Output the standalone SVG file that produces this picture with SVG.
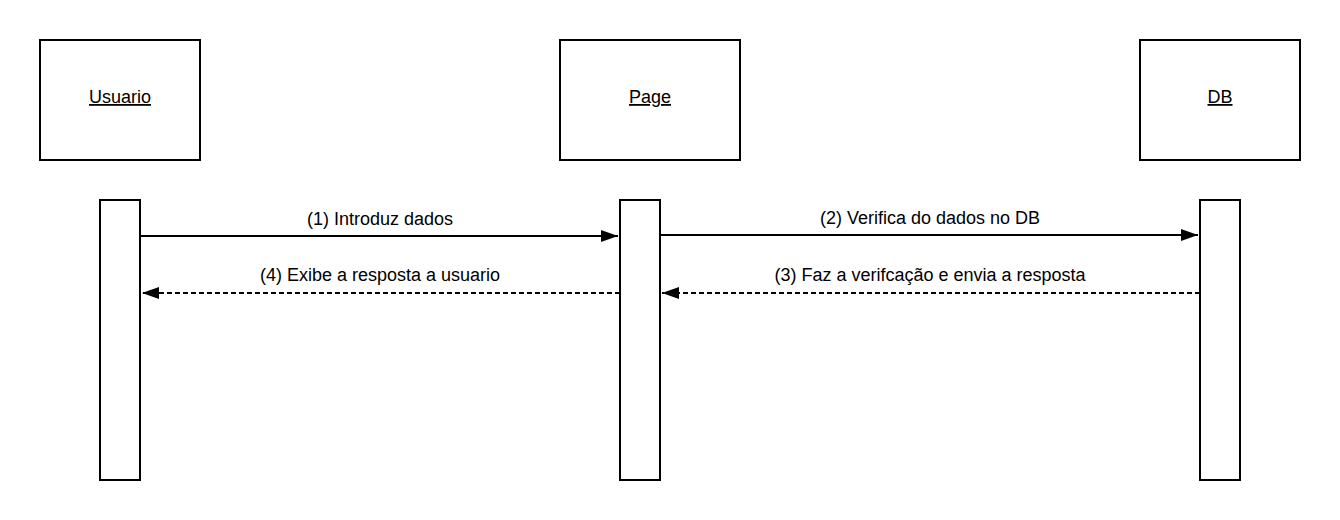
<svg xmlns="http://www.w3.org/2000/svg" width="1340" height="520" viewBox="0 0 1340 520">
<style>
.box{fill:#fff;stroke:#000;stroke-width:2}
.lbl{font-family:"Liberation Sans",Arial,sans-serif;font-size:18px;fill:#000;text-anchor:middle}
.name{text-decoration:underline}
.msg{stroke:#000;stroke-width:2;fill:none}
.dash{stroke-dasharray:5 3}
</style>
<defs>
<marker id="ah" viewBox="0 0 17 12" refX="17" refY="6" markerWidth="17" markerHeight="12" markerUnits="userSpaceOnUse" orient="auto">
<path d="M0,0 L17,6 L0,12 Z" fill="#000"/>
</marker>
</defs>
<rect width="1340" height="520" fill="#fff"/>
<g id="usuario">
<rect class="box" x="40" y="40" width="160" height="120"/>
<text class="lbl name" x="120" y="103">Usuario</text>
</g>
<g id="page">
<rect class="box" x="560" y="40" width="180" height="120"/>
<text class="lbl name" x="650" y="103">Page</text>
</g>
<g id="db">
<rect class="box" x="1140" y="40" width="160" height="120"/>
<text class="lbl name" x="1220" y="103">DB</text>
</g>
<g id="usuario-lifeline">
<rect class="box" x="100" y="200" width="40" height="280"/>
</g>
<g id="page-lifeline">
<rect class="box" x="620" y="200" width="40" height="280"/>
</g>
<g id="db-lifeline">
<rect class="box" x="1200" y="200" width="40" height="280"/>
</g>
<g id="connectors">
<line class="msg" x1="140" y1="236" x2="618" y2="236" marker-end="url(#ah)"/>
<text class="lbl" x="380" y="225">(1) Introduz dados</text>
<line class="msg" x1="660" y1="235" x2="1198" y2="235" marker-end="url(#ah)"/>
<text class="lbl" x="930" y="224">(2) Verifica do dados no DB</text>
<line class="msg dash" x1="1200" y1="293" x2="662" y2="293" marker-end="url(#ah)"/>
<text class="lbl" x="930" y="281">(3) Faz a verifcação e envia a resposta</text>
<line class="msg dash" x1="620" y1="293" x2="142" y2="293" marker-end="url(#ah)"/>
<text class="lbl" x="380" y="281">(4) Exibe a resposta a usuario</text>
</g>
</svg>
